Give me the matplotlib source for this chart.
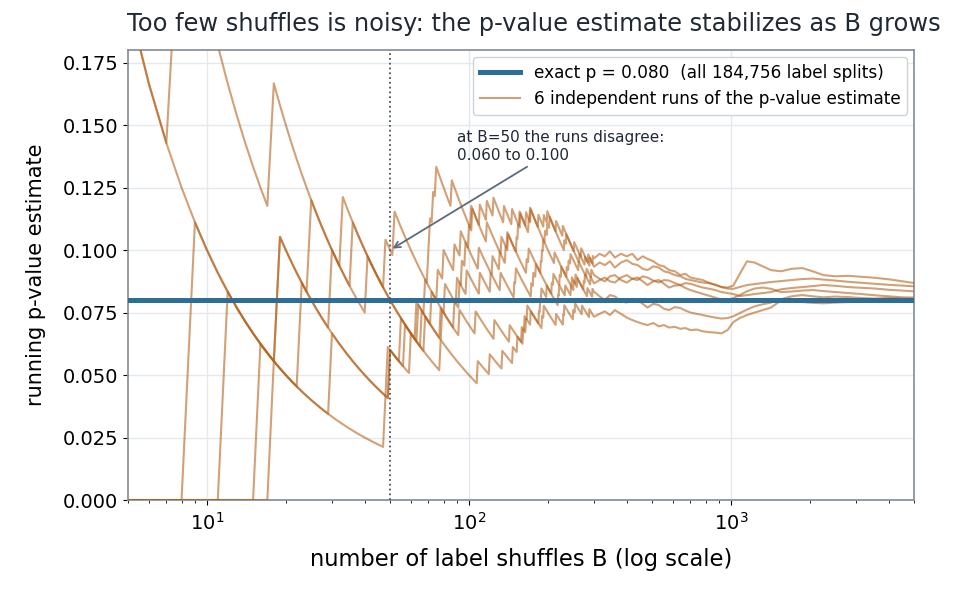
import numpy as np
import matplotlib.pyplot as plt

# exact permutation p-value and number of label splits
exact_p = 0.080
n_splits = "184,756"

# shuffle numbers (first 300 shuffles) where the shuffled statistic was >= observed, one list per run
hits_a = [1, 8, 18, 33, 48, 52, 70, 71, 73, 75, 86, 103, 110, 117, 124, 136, 146, 156, 165,
          172, 184, 193, 199, 215, 228, 264, 277, 289, 297]
hits_b = [1, 48, 49, 55, 63, 72, 81, 90, 98, 110, 121, 132, 149, 151, 173, 176, 180, 207, 210,
          222, 225, 251, 259, 283, 296]
hits_c = [9, 19, 30, 41, 68, 78, 88, 92, 94, 97, 100, 102, 117, 138, 141, 166, 169, 188, 190,
          192, 212, 236, 240, 244, 262, 281, 293]
hits_d = [12, 23, 50, 57, 64, 79, 92, 106, 125, 143, 161, 163, 167, 185, 187, 189, 198, 219,
          221, 233, 245, 247, 255, 274, 277, 291]
hits_e = [16, 30, 50, 60, 78, 108, 120, 134, 147, 153, 159, 165, 172, 190, 193, 215, 229, 231,
          250, 254, 270, 288]
hits_f = [18, 19, 25, 36, 66, 68, 76, 80, 88, 93, 109, 123, 131, 133, 140, 152, 154, 157, 169,
          171, 195, 199, 203, 231, 235, 252, 268, 285]
n_early = 300

# running estimate read off the chart beyond B=300
tail_B = [315, 330, 345, 360, 380, 400, 420, 440, 460, 480,
          505, 530, 555, 580, 610, 640, 670, 700, 740, 780,
          820, 870, 920, 970, 1020, 1080, 1150, 1230, 1320, 1420,
          1550, 1700, 1870, 2050, 2250, 2500, 2800, 3150, 3550, 4000,
          4500, 5000]
tail_a = [0.0985, 0.0975, 0.0995, 0.0970, 0.0985, 0.0975, 0.0985, 0.0960, 0.0975, 0.0965,
          0.0955, 0.0940, 0.0935, 0.0920, 0.0915, 0.0900, 0.0905, 0.0890, 0.0885, 0.0880,
          0.0870, 0.0860, 0.0852, 0.0846, 0.0845, 0.0852, 0.0860, 0.0864, 0.0868, 0.0872,
          0.0876, 0.0880, 0.0884, 0.0886, 0.0882, 0.0878, 0.0873, 0.0869, 0.0865, 0.0861,
          0.0858, 0.0855]
tail_b = [0.0815, 0.0800, 0.0820, 0.0815, 0.0795, 0.0790, 0.0805, 0.0800, 0.0785, 0.0770,
          0.0785, 0.0780, 0.0765, 0.0760, 0.0772, 0.0768, 0.0758, 0.0750, 0.0745, 0.0740,
          0.0735, 0.0730, 0.0726, 0.0728, 0.0735, 0.0748, 0.0762, 0.0775, 0.0783, 0.0790,
          0.0803, 0.0815, 0.0820, 0.0815, 0.0811, 0.0814, 0.0812, 0.0808, 0.0806, 0.0809,
          0.0806, 0.0805]
tail_c = [0.0885, 0.0875, 0.0895, 0.0900, 0.0880, 0.0870, 0.0885, 0.0890, 0.0875, 0.0860,
          0.0875, 0.0880, 0.0865, 0.0850, 0.0858, 0.0860, 0.0848, 0.0840, 0.0832, 0.0825,
          0.0818, 0.0810, 0.0802, 0.0800, 0.0808, 0.0820, 0.0835, 0.0846, 0.0850, 0.0845,
          0.0832, 0.0834, 0.0838, 0.0840, 0.0836, 0.0832, 0.0828, 0.0824, 0.0819, 0.0815,
          0.0811, 0.0810]
tail_d = [0.0880, 0.0890, 0.0875, 0.0870, 0.0890, 0.0900, 0.0885, 0.0880, 0.0895, 0.0890,
          0.0878, 0.0870, 0.0880, 0.0878, 0.0868, 0.0860, 0.0868, 0.0865, 0.0857, 0.0850,
          0.0846, 0.0840, 0.0832, 0.0828, 0.0824, 0.0816, 0.0820, 0.0824, 0.0828, 0.0832,
          0.0843, 0.0848, 0.0852, 0.0856, 0.0860, 0.0857, 0.0852, 0.0849, 0.0846, 0.0841,
          0.0838, 0.0835]
tail_e = [0.0745, 0.0755, 0.0740, 0.0760, 0.0745, 0.0730, 0.0720, 0.0712, 0.0705, 0.0700,
          0.0708, 0.0695, 0.0700, 0.0690, 0.0693, 0.0685, 0.0688, 0.0680, 0.0682, 0.0675,
          0.0672, 0.0670, 0.0667, 0.0680, 0.0712, 0.0728, 0.0740, 0.0750, 0.0760, 0.0770,
          0.0798, 0.0795, 0.0792, 0.0789, 0.0787, 0.0790, 0.0792, 0.0794, 0.0796, 0.0798,
          0.0800, 0.0801]
tail_f = [0.0950, 0.0940, 0.0955, 0.0930, 0.0950, 0.0960, 0.0945, 0.0940, 0.0925, 0.0920,
          0.0935, 0.0930, 0.0915, 0.0910, 0.0900, 0.0895, 0.0885, 0.0880, 0.0875, 0.0870,
          0.0868, 0.0862, 0.0852, 0.0850, 0.0858, 0.0905, 0.0955, 0.0950, 0.0935, 0.0920,
          0.0915, 0.0925, 0.0928, 0.0915, 0.0900, 0.0895, 0.0897, 0.0893, 0.0889, 0.0883,
          0.0875, 0.0868]

runs = [(hits_a, tail_a), (hits_b, tail_b), (hits_c, tail_c),
        (hits_d, tail_d), (hits_e, tail_e), (hits_f, tail_f)]

run_color = "#b5621c"
exact_color = "#2c6e98"

fig = plt.figure(figsize=(9.57, 5.89), dpi=100)
ax = fig.add_axes([0.1338, 0.151, 0.8215, 0.764])

B_early = np.arange(1, n_early + 1)
for i, (hits, tail) in enumerate(runs):
    assert len(tail) == len(tail_B)
    est = np.cumsum(np.isin(B_early, hits)) / B_early
    x = np.concatenate([B_early, tail_B])
    y = np.concatenate([est, tail])
    ax.plot(x, y, color=run_color, alpha=0.6, lw=1.5, zorder=3,
            label="6 independent runs of the p-value estimate" if i == 0 else None)

ax.axhline(exact_p, color=exact_color, lw=3.6, zorder=4,
           label=f"exact p = {exact_p:.3f}  (all {n_splits} label splits)")
ax.axvline(50, color="#4a5563", ls=":", lw=1.3, zorder=5)

ax.annotate("at B=50 the runs disagree:\n0.060 to 0.100", xy=(50, 0.1), xytext=(90, 0.1415),
            ha="left", va="center", fontsize=11, color="#1f2937", zorder=6,
            arrowprops=dict(arrowstyle="->", color="#5b6b7b", lw=1.3))

ax.set_xscale("log")
ax.set_xlim(5, 5000)
ax.set_ylim(0, 0.18)
ax.set_yticks(np.arange(0, 0.176, 0.025))
ax.yaxis.set_major_formatter(plt.FormatStrFormatter("%.3f"))
ax.grid(True, which="major", color="#e5e8ec", lw=1.0, zorder=0)
ax.set_axisbelow(True)
for s in ax.spines.values():
    s.set_color("#8a949e")
    s.set_linewidth(1.3)
ax.tick_params(labelsize=14)
ax.tick_params(axis="x", pad=5)

ax.set_xlabel("number of label shuffles B (log scale)", fontsize=16.3, labelpad=10)
ax.set_ylabel("running p-value estimate", fontsize=15, labelpad=12)
ax.set_title("Too few shuffles is noisy: the p-value estimate stabilizes as B grows",
             fontsize=17.4, color="#1f2933", pad=14, x=0.516)

handles, labels = ax.get_legend_handles_labels()
ax.legend(handles[::-1], labels[::-1], loc="upper right", fontsize=12.2, framealpha=1,
          edgecolor="#cfd4da", handlelength=2.4, borderaxespad=0.4)

fig.savefig("out.png", dpi=100)
